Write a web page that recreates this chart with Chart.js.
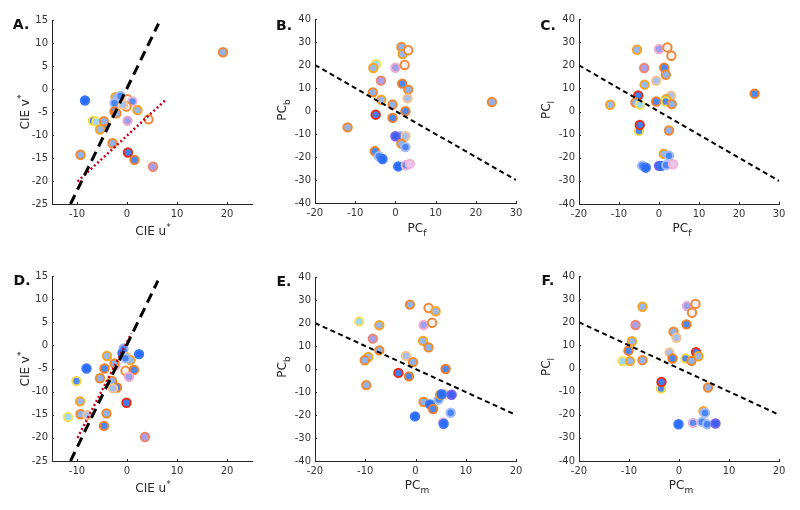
<!DOCTYPE html>
<html>
<head>
<meta charset="utf-8">
<script src="https://cdn.jsdelivr.net/npm/chart.js@4.4.1/dist/chart.umd.min.js"></script>
<style>
  html, body { margin: 0; padding: 0; background: #fff; }
  #fig { position: relative; width: 800px; height: 510px; font-family: "DejaVu Sans", Verdana, sans-serif; color: #262626; }
  #fig canvas { position: absolute; }
  .lbl { position: absolute; font-size: 12px; white-space: nowrap; transform: translate(-50%, -50%); line-height: 1; }
  .rot { transform: translate(-50%, -50%) rotate(-90deg); }
  .pan { position: absolute; font-size: 14px; font-weight: bold; transform: translate(-50%, -50%); line-height: 1; color: #111; }
  .lbl sub, .lbl sup { font-size: 9px; }
</style>
</head>
<body>
<div id="fig">
  <canvas id="js-panel-a"></canvas>
  <canvas id="js-panel-b"></canvas>
  <canvas id="js-panel-c"></canvas>
  <canvas id="js-panel-d"></canvas>
  <canvas id="js-panel-e"></canvas>
  <canvas id="js-panel-f"></canvas>

  <div class="pan" style="left:21px;top:24px">A.</div>
  <div class="pan" style="left:284px;top:25px">B.</div>
  <div class="pan" style="left:548px;top:25px">C.</div>
  <div class="pan" style="left:22px;top:280px">D.</div>
  <div class="pan" style="left:284px;top:281px">E.</div>
  <div class="pan" style="left:548px;top:280px">F.</div>

  <div class="lbl" style="left:153px;top:230px">CIE u<sup>*</sup></div>
  <div class="lbl rot" style="left:24px;top:112px">CIE v<sup>*</sup></div>
  <div class="lbl" style="left:417px;top:230px">PC<sub>f</sub></div>
  <div class="lbl rot" style="left:284px;top:110px">PC<sub>b</sub></div>
  <div class="lbl" style="left:682px;top:230px">PC<sub>f</sub></div>
  <div class="lbl rot" style="left:548px;top:110px">PC<sub>l</sub></div>
  <div class="lbl" style="left:153px;top:487px">CIE u<sup>*</sup></div>
  <div class="lbl rot" style="left:24px;top:369px">CIE v<sup>*</sup></div>
  <div class="lbl" style="left:417px;top:487px">PC<sub>m</sub></div>
  <div class="lbl rot" style="left:284px;top:367px">PC<sub>b</sub></div>
  <div class="lbl" style="left:681px;top:487px">PC<sub>m</sub></div>
  <div class="lbl rot" style="left:548px;top:367px">PC<sub>l</sub></div>
</div>

<script>
// Data

// A. CIE u*/v* (top)
const uA = [-4.8, 19.2, -8.4, -2.3, -1.3, 0.1, 1.1, -2.5, -0.1, -0.8, 2.1, -2.5, -2.1, 0.1, 4.3, -6.8, -6.1, -4.6, -5.4, -2.9, -9.3, 0.2, 1.5, 5.2];
const vA = [-8.0, 8.0, -2.5, -1.8, -1.5, -2.2, -2.7, -3.1, -3.8, -3.4, -4.6, -4.9, -5.3, -6.9, -6.6, -6.9, -7.1, -7.0, -8.8, -11.8, -14.3, -13.8, -15.4, -16.9];
const kindA = ["BL", "LO", "BB", "LY", "BL", "HO", "BP", "BL", "HO", "LP", "LY", "BO", "LO", "PP", "HO", "BY", "CY", "LO", "LY", "LO", "LO", "BR", "BO", "PS"];
const fitDashA = { x: [-11.3, 6.3], y: [-25, 14.2] };
const fitDotA = { x: [-9.9, 7.7], y: [-20.1, -2.4] };

// B. PC_f vs PC_b
const xB = [1.5, 1.8, 3.2, -4.8, -5.5, 0, 2.3, -3.6, 1.7, 3.2, -5.6, -3.5, 3.0, -0.7, 24.0, 2.5, -4.9, -0.7, -11.9, 1.3, 2.5, 0, 1.5, 2.5, -5.1, -4.1, -3.2, 0.7, 2.6, 3.6];
const yB = [27.8, 24.8, 26.4, 20.4, 18.7, 18.8, 20.0, 13.2, 11.9, 9.3, 8.1, 4.9, 5.5, 2.8, 3.9, -0.1, -1.6, -3.0, -7.1, -11, -11, -11, -14.2, -15.7, -17.5, -19.7, -20.9, -24.1, -23.6, -23.0];
const kindB = ["LO", "LY", "HO", "CY", "LY", "PP", "HO", "PS", "BO", "LO", "LO", "LY", "LP", "LO", "LO", "BO", "BR", "BO", "LO", "BL", "LP", "DV", "LO", "BL", "BO", "BL", "BB", "BB", "BP", "PK"];
const fitB = { x: [-20, 30], y: [20, -30] };

// C. PC_f vs PC_l
const xC = [-5.5, 0, 2.1, 3.1, -3.7, 1.3, 1.7, -0.7, -3.6, 23.9, -5.2, 3.0, 1.8, -5.9, -4.8, -12.2, -0.7, 1.7, 3.2, -5.0, -4.8, 2.5, 1.2, 2.5, -4.2, -3.3, 0, 0.7, 1.8, 3.5];
const yC = [26.7, 27, 27.7, 24.1, 18.8, 18.9, 15.9, 13.3, 11.6, 7.7, 6.9, 6.8, 5.3, 3.9, 2.9, 2.9, 4.3, 4.3, 3.2, -8.4, -5.8, -8.2, -18.3, -19.1, -23.4, -24.3, -23.5, -23.5, -23.2, -22.8];
const kindC = ["LY", "PP", "HO", "HO", "PS", "BO", "LO", "LP", "LY", "BO", "BR", "LP", "LY", "LO", "CY", "LY", "BO", "BY", "LO", "BY", "BR", "LO", "LY", "BL", "BL", "BB", "DV", "BB", "BL", "PK"];
const fitC = { x: [-20, 30], y: [20, -30] };

// D. CIE u*/v* (bottom)
const uD = [2.4, -0.7, -0.9, -0.1, 0.7, -0.3, -4.0, -8.1, -4.5, -2.3, -2.5, -0.3, 1.4, 0.4, -5.4, -3.0, -10.1, -2.0, -2.8, -9.4, -0.1, -9.3, -7.9, -11.8, -4.1, -4.6, 3.6];
const vD = [-1.9, -0.65, -1.7, -2.5, -3.2, -2.8, -2.3, -5.0, -5.0, -4.3, -3.9, -5.5, -5.3, -6.8, -7.1, -7.7, -7.7, -9.1, -9.3, -12.1, -12.4, -14.9, -15.1, -15.5, -14.7, -17.4, -19.8];
const kindD = ["BB", "BL", "BB", "LP", "LY", "BL", "LY", "BB", "BO", "BP", "LO", "HO", "BO", "PP", "LO", "LO", "BY", "BO", "LP", "LY", "BR", "LO", "LP", "CY", "LO", "BO", "PS"];
const fitDashD = { x: [-11.3, 6.2], y: [-25, 14.0] };
const fitDotD = { x: [-9.9, 0.9], y: [-20, 2.6] };

// E. PC_m vs PC_b
const xE = [-1.1, 2.6, 4.0, -11.2, -7.2, 1.6, 3.3, -8.5, 1.5, 2.6, -7.2, -9.4, -10.1, -1.9, -0.5, 6.0, -3.4, -1.3, -9.8, 1.6, 2.9, 3.5, -0.1, 4.6, 4.9, 5.9, 5.2, 7.2, 7.0, 5.5, 5.6];
const yE = [28.0, 26.5, 25.1, 20.7, 19.0, 19.1, 20.1, 13.2, 12.2, 9.4, 8.1, 5.2, 3.8, 5.7, 3.0, 0, -1.7, -3.2, -7.0, -14.3, -15.4, -17.4, -20.6, -13.3, -11.2, -11.0, -11.0, -11.2, -19.0, -23.2, -23.8];
const kindE = ["LO", "HO", "LY", "CY", "LY", "PP", "HO", "PS", "LY", "LO", "LO", "LY", "LO", "LP", "LO", "BO", "BR", "BO", "LO", "LO", "BB", "BO", "BB", "BL", "LY", "LP", "BB", "DV", "BL", "PK", "BB"];
const fitE = { x: [-20, 20], y: [20, -20] };

// F. PC_m vs PC_l
const xF = [-7.3, 1.6, 3.3, 2.6, -8.7, 1.5, -1.1, -0.5, -9.4, -10.1, 3.4, -1.9, 3.9, -7.3, -11.3, -9.8, -1.3, 1.3, 2.5, -3.6, -3.5, 5.8, 4.9, 5.2, -0.1, 2.8, 4.6, 5.6, 7.3];
const yF = [26.7, 27, 27.9, 24.1, 18.8, 19.1, 15.9, 13.3, 11.8, 7.7, 7.1, 6.9, 5.3, 3.6, 3.2, 3.2, 4.3, 4.3, 3.3, -8.7, -5.8, -8.2, -18.5, -19.2, -24.1, -23.5, -23.1, -24.1, -23.8];
const kindF = ["LY", "PP", "HO", "HO", "PS", "BO", "LO", "LP", "LY", "BO", "BR", "LP", "LY", "LO", "CY", "LY", "BO", "BY", "LO", "BY", "BR", "LO", "LY", "BL", "BB", "BP", "BL", "BL", "DV"];
const fitF = { x: [-20, 20], y: [20, -20] };

// Tick labels
const ticksCieU = [-10, 0, 10, 20];
const ticksCieV = [-25, -20, -15, -10, -5, 0, 5, 10, 15];
const ticksPcF = [-20, -10, 0, 10, 20, 30];
const ticksPcM = [-20, -10, 0, 10, 20];
const ticksPc = [-40, -30, -20, -10, 0, 10, 20, 30, 40];

// Marker styles: [face, edge]
const markerStyles = {
    LO: ["#92b2ee", "#f2892c"],
    LY: ["#98b8ef", "#f6a623"],
    BB: ["#2a6cf6", "#3c78f7"],
    BO: ["#4d88f2", "#f07f2a"],
    BR: ["#3e7ff4", "#e62c1a"],
    BY: ["#4d88f2", "#f3d94c"],
    BL: ["#4a85f4", "#a3bcf6"],
    PP: ["#9c9ef0", "#f1abcb"],
    PS: ["#a6a0ef", "#ef856e"],
    HO: ["#f3f1f6", "#f08a3a"],
    CY: ["#a0d6f5", "#f6e25a"],
    LP: ["#a9c0ef", "#f5c590"],
    PK: ["#e9c6ea", "#f0b2d8"],
    BP: ["#5a8cf2", "#ebb2d6"],
    DV: ["#3a62f0", "#7560ef"],
};

// Inner tick marks, MATLAB style
const innerTicks = {
    id: "innerTicks",
    afterDatasetsDraw(chart) {
        const ctx = chart.ctx;
        const { x, y } = chart.scales;
        const area = chart.chartArea;
        ctx.save();
        ctx.strokeStyle = "#262626";
        ctx.lineWidth = 1;
        ctx.beginPath();
        x.ticks.forEach((t) => {
            const px = Math.round(x.getPixelForValue(t.value)) + 0.5;
            ctx.moveTo(px, area.bottom);
            ctx.lineTo(px, area.bottom - 2);
        });
        y.ticks.forEach((t) => {
            const py = Math.round(y.getPixelForValue(t.value)) + 0.5;
            ctx.moveTo(area.left, py);
            ctx.lineTo(area.left + 2, py);
        });
        ctx.stroke();
        ctx.restore();
    },
};

function makePanel(id, box, xs, ys, kinds, fits, xRange, yRange, xTicks, yTicks) {
    const canvas = document.getElementById(id);
    canvas.width = box.w;
    canvas.height = box.h;
    canvas.style.left = box.left + "px";
    canvas.style.top = box.top + "px";

    const points = xs.map((x, i) => ({ x: x, y: ys[i] }));

    const datasets = fits.map((f) => ({
        type: "line",
        data: f.x.map((x, i) => ({ x: x, y: f.y[i] })),
        borderColor: f.color,
        borderWidth: f.width,
        borderDash: f.dash,
        borderCapStyle: "butt",
        pointRadius: 0,
        fill: false,
        tension: 0,
    }));

    datasets.push({
        type: "scatter",
        data: points,
        pointRadius: 4.2,
        pointBorderWidth: 2,
        pointBackgroundColor: kinds.map((k) => markerStyles[k][0]),
        pointBorderColor: kinds.map((k) => markerStyles[k][1]),
    });

    const tickFont = { family: "'DejaVu Sans', Verdana, sans-serif", size: 10 };

    return new Chart(canvas, {
        type: "scatter",
        data: { datasets: datasets },
        plugins: [innerTicks],
        options: {
            responsive: false,
            animation: false,
            events: [],
            layout: { padding: { top: box.padTop, right: box.padRight, left: 0, bottom: 0 } },
            plugins: { legend: { display: false }, tooltip: { enabled: false } },
            scales: {
                x: {
                    type: "linear",
                    min: xRange[0],
                    max: xRange[1],
                    grid: { display: false, drawTicks: false, tickLength: 0 },
                    border: { display: true, color: "#262626", width: 1 },
                    ticks: { color: "#333", font: tickFont, padding: 4, autoSkip: false, maxRotation: 0 },
                    afterBuildTicks: (s) => { s.ticks = xTicks.map((v) => ({ value: v })); },
                    afterFit: (s) => { s.height = box.xAxisH; },
                },
                y: {
                    type: "linear",
                    min: yRange[0],
                    max: yRange[1],
                    grid: { display: false, drawTicks: false, tickLength: 0 },
                    border: { display: true, color: "#262626", width: 1 },
                    ticks: { color: "#333", font: tickFont, padding: 4, autoSkip: false },
                    afterBuildTicks: (s) => { s.ticks = yTicks.map((v) => ({ value: v })); },
                    afterFit: (s) => { s.width = box.yAxisW; },
                },
            },
        },
    });
}

const bigDash = (f) => ({ x: f.x, y: f.y, color: "#000", width: 3, dash: [10, 6] });
const redDot = (f) => ({ x: f.x, y: f.y, color: "#c4001a", width: 2.5, dash: [2, 2.5] });
const smallDash = (f) => ({ x: f.x, y: f.y, color: "#000", width: 2, dash: [5, 3.5] });

makePanel("js-panel-a", { left: 0, top: 0, w: 265, h: 250, yAxisW: 52, padTop: 20, padRight: 13, xAxisH: 46 },
    uA, vA, kindA, [bigDash(fitDashA), redDot(fitDotA)], [-15, 25], [-25, 15], ticksCieU, ticksCieV);
makePanel("js-panel-b", { left: 265, top: 0, w: 265, h: 250, yAxisW: 50, padTop: 19, padRight: 14, xAxisH: 47 },
    xB, yB, kindB, [smallDash(fitB)], [-20, 30], [-40, 40], ticksPcF, ticksPc);
makePanel("js-panel-c", { left: 530, top: 0, w: 270, h: 250, yAxisW: 49, padTop: 19, padRight: 21, xAxisH: 46 },
    xC, yC, kindC, [smallDash(fitC)], [-20, 30], [-40, 40], ticksPcF, ticksPc);
makePanel("js-panel-d", { left: 0, top: 255, w: 265, h: 255, yAxisW: 52, padTop: 21, padRight: 13, xAxisH: 49 },
    uD, vD, kindD, [bigDash(fitDashD), redDot(fitDotD)], [-15, 25], [-25, 15], ticksCieU, ticksCieV);
makePanel("js-panel-e", { left: 265, top: 255, w: 265, h: 255, yAxisW: 50, padTop: 22, padRight: 14, xAxisH: 49 },
    xE, yE, kindE, [smallDash(fitE)], [-20, 20], [-40, 40], ticksPcM, ticksPc);
makePanel("js-panel-f", { left: 530, top: 255, w: 270, h: 255, yAxisW: 49, padTop: 21, padRight: 21, xAxisH: 49 },
    xF, yF, kindF, [smallDash(fitF)], [-20, 20], [-40, 40], ticksPcM, ticksPc);
</script>
</body>
</html>
